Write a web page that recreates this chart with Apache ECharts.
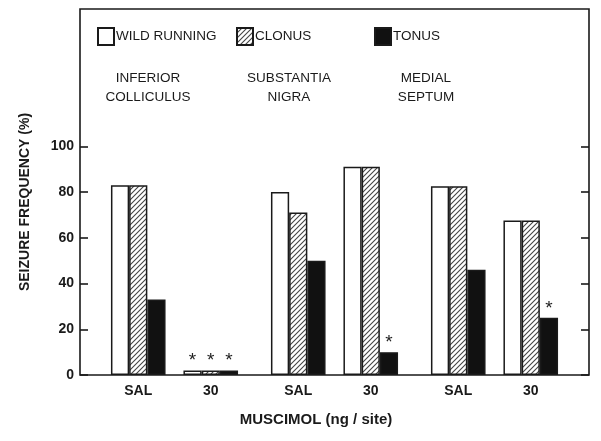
<!DOCTYPE html>
<html>
<head>
<meta charset="utf-8">
<script src="https://cdn.jsdelivr.net/npm/echarts@6/dist/echarts.min.js"></script>
<style>html,body{margin:0;padding:0;background:#fff}#c{width:601px;height:441px}</style>
</head>
<body>
<div id="c"></div>
<script>
// ---- data ----
var regions = ['INFERIOR\nCOLLICULUS', 'SUBSTANTIA\nNIGRA', 'MEDIAL\nSEPTUM'];
var doses = ['SAL', '30'];
var seriesNames = ['WILD RUNNING', 'CLONUS', 'TONUS'];
// order: IC-SAL, IC-30, SN-SAL, SN-30, MS-SAL, MS-30
var wildRunning = [83, 2, 80, 91, 82.5, 67.5];
var clonus      = [83, 2, 71, 91, 82.5, 67.5];
var tonus       = [33, 2, 50, 10, 46, 25];
var wildSig   = [0, 1, 0, 0, 0, 0];
var clonusSig = [0, 1, 0, 0, 0, 0];
var tonusSig  = [0, 1, 0, 1, 0, 1];
var yTicks = [0, 20, 40, 60, 80, 100];
var yAxisTitle = 'SEIZURE FREQUENCY (%)';
var xAxisTitle = 'MUSCIMOL (ng / site)';

// ---- styles ----
var FONT = '"Liberation Sans", Arial, Helvetica, sans-serif';
var INK = '#1a1a1a';
var hatch = document.createElement('canvas');
hatch.width = 5; hatch.height = 5;
(function () {
  var g = hatch.getContext('2d');
  g.fillStyle = '#fff'; g.fillRect(0, 0, 5, 5);
  g.strokeStyle = '#444'; g.lineWidth = 1.1;
  g.beginPath();
  g.moveTo(-1, 6); g.lineTo(6, -1);
  g.moveTo(-1, 1); g.lineTo(1, -1);
  g.moveTo(4, 6); g.lineTo(6, 4);
  g.stroke();
})();
var fills = ['#ffffff', { image: hatch, repeat: 'repeat' }, '#111111'];
var valueSets = [wildRunning, clonus, tonus];
var sigSets = [wildSig, clonusSig, tonusSig];

var TOP = 9, BOTTOM = 66, YMAX = 160;
var regionLeft = [102, 262, 422], regionWidth = 145;

var grids = [{ left: 80, right: 12, top: TOP, bottom: BOTTOM, show: true, borderColor: INK, borderWidth: 1.6, backgroundColor: 'transparent' }];
var xAxes = [{ gridIndex: 0, type: 'category', data: [''], axisLine: { show: false }, axisTick: { show: false }, axisLabel: { show: false } }];
var yAxes = [
  { gridIndex: 0, type: 'value', min: 0, max: YMAX, interval: 20, position: 'left',
    splitLine: { show: false }, axisLine: { show: false },
    axisTick: { show: true, inside: true, length: 8, customValues: yTicks, lineStyle: { color: INK, width: 1.6 } },
    axisLabel: { customValues: yTicks, margin: 6, color: INK, fontSize: 14, fontWeight: 'bold', fontFamily: FONT } },
  { gridIndex: 0, type: 'value', min: 0, max: YMAX, interval: 20, position: 'right',
    splitLine: { show: false }, axisLine: { show: false },
    axisTick: { show: true, inside: true, length: 8, customValues: yTicks, lineStyle: { color: INK, width: 1.6 } },
    axisLabel: { show: false } }
];
var series = [];
regions.forEach(function (r, ri) {
  grids.push({ left: regionLeft[ri], width: regionWidth, top: TOP, bottom: BOTTOM });
  xAxes.push({ gridIndex: ri + 1, type: 'category', data: doses,
    axisLine: { show: false }, axisTick: { show: false },
    axisLabel: { margin: 9, color: INK, fontSize: 14, fontWeight: 'bold', fontFamily: FONT } });
  yAxes.push({ gridIndex: ri + 1, type: 'value', min: 0, max: YMAX, show: false, splitLine: { show: false } });
  seriesNames.forEach(function (nm, si) {
    var vals = valueSets[si].slice(ri * 2, ri * 2 + 2);
    var sig = sigSets[si].slice(ri * 2, ri * 2 + 2);
    series.push({
      name: nm, type: 'bar', xAxisIndex: ri + 1, yAxisIndex: ri + 2,
      barWidth: 18.2, barGap: '0%',
      itemStyle: { color: fills[si], borderColor: INK, borderWidth: 1.5 },
      label: { show: true, position: 'top', distance: 0, color: '#222', fontSize: 19, fontFamily: FONT,
        formatter: function (p) { return sig[p.dataIndex] ? '*' : ''; } },
      data: vals
    });
  });
});

var legendLefts = [97, 236, 374];
var legends = seriesNames.map(function (nm, i) {
  return { data: [{ name: nm, icon: 'rect' }], left: legendLefts[i], top: 27, padding: 0,
    itemWidth: 16, itemHeight: 17, itemGap: 4,
    selectedMode: false,
    textStyle: { color: INK, fontSize: 13.5, fontFamily: FONT, padding: [0, 0, 0, -3] } };
});

var regionX = [148, 289, 426];
var graphics = regions.map(function (r, i) {
  return { type: 'text', x: regionX[i], y: 88,
    style: { text: r, fill: INK, font: '13.5px ' + FONT, lineHeight: 19,
      textAlign: 'center', textVerticalAlign: 'middle', align: 'center', verticalAlign: 'middle' } };
});
graphics.push({ type: 'text', x: 25, y: 202, rotation: Math.PI / 2,
  style: { text: yAxisTitle, fill: INK, font: 'bold 14px ' + FONT,
    textAlign: 'center', textVerticalAlign: 'middle', align: 'center', verticalAlign: 'middle' } });
graphics.push({ type: 'text', x: 316, y: 420,
  style: { text: xAxisTitle, fill: INK, font: 'bold 15px ' + FONT,
    textAlign: 'center', textVerticalAlign: 'middle', align: 'center', verticalAlign: 'middle' } });

var chart = echarts.init(document.getElementById('c'), null, { renderer: 'canvas' });
chart.setOption({
  animation: false,
  backgroundColor: '#fff',
  grid: grids, xAxis: xAxes, yAxis: yAxes,
  legend: legends,
  graphic: graphics,
  series: series
});
</script>
</body>
</html>
